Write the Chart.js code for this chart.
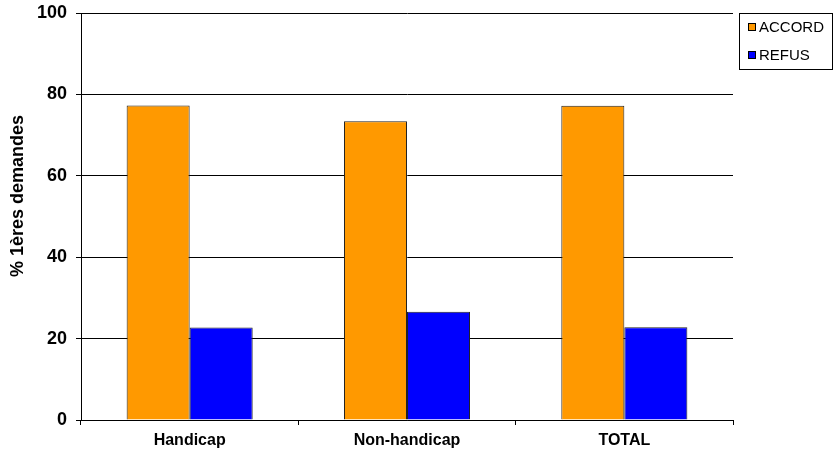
<!DOCTYPE html>
<html>
<head>
<meta charset="utf-8">
<script src="https://cdn.jsdelivr.net/npm/chart.js@4/dist/chart.umd.min.js"></script>
<style>
  html, body { margin: 0; padding: 0; background: #fff; }
  canvas { display: block; }
</style>
</head>
<body>
<canvas id="c" width="833" height="456"></canvas>
<script>
// Share of first requests by outcome, per group
const categories = ['Handicap', 'Non-handicap', 'TOTAL'];
const accord = [77.3, 73.4, 77.2];
const refus = [22.7, 26.6, 22.8];
const yTicks = [0, 20, 40, 60, 80, 100];
const yTitle = '% 1ères demandes';
const seriesNames = ['ACCORD', 'REFUS'];
const seriesColors = ['#FF9900', '#0000FF'];

const FONT = '"Liberation Sans", Arial, sans-serif';

// Boxed legend at top right plus the rotated axis title
const decorations = {
  id: 'decorations',
  afterDraw(chart) {
    const ctx = chart.ctx;
    ctx.save();
    // axis title
    ctx.translate(18.5, 196);
    ctx.rotate(-Math.PI / 2);
    ctx.font = 'bold 18px ' + FONT;
    ctx.fillStyle = '#000';
    ctx.textAlign = 'center';
    ctx.textBaseline = 'middle';
    ctx.fillText(yTitle, 0, 0);
    ctx.restore();

    ctx.save();
    ctx.strokeStyle = '#000';
    ctx.lineWidth = 1;
    ctx.strokeRect(739.5, 13.5, 93, 56);
    const rows = [27, 55];
    chart.data.datasets.forEach((ds, i) => {
      const y = rows[i];
      ctx.fillStyle = ds.backgroundColor;
      ctx.fillRect(748, y - 4, 8, 8);
      ctx.strokeStyle = '#000';
      ctx.strokeRect(748.5, y - 3.5, 7, 7);
      ctx.fillStyle = '#000';
      ctx.font = '15px ' + FONT;
      ctx.textAlign = 'left';
      ctx.textBaseline = 'middle';
      ctx.fillText(ds.label, 759, y + 1);
    });
    ctx.restore();
  }
};

new Chart(document.getElementById('c'), {
  type: 'bar',
  data: {
    labels: categories,
    datasets: [
      { label: seriesNames[0], data: accord, backgroundColor: seriesColors[0], borderColor: '#222', borderWidth: 1 },
      { label: seriesNames[1], data: refus, backgroundColor: seriesColors[1], borderColor: '#222', borderWidth: 1 }
    ]
  },
  options: {
    responsive: false,
    animation: false,
    devicePixelRatio: 1,
    layout: { padding: { top: 13, right: 100, bottom: 0, left: 0 } },
    datasets: { bar: { categoryPercentage: 0.58, barPercentage: 1.0 } },
    plugins: { legend: { display: false }, tooltip: { enabled: false } },
    scales: {
      x: {
        offset: true,
        grid: { display: true, drawOnChartArea: false, tickLength: 5, color: '#000', tickColor: '#000' },
        border: { display: true, color: '#000' },
        ticks: { color: '#000', font: { family: FONT, size: 16, weight: 'bold' }, padding: 6, maxRotation: 0 },
        afterFit(scale) { scale.height = 36; scale.paddingLeft = 0; scale.paddingRight = 0; }
      },
      y: {
        min: 0,
        max: 100,
        afterBuildTicks(scale) { scale.ticks = yTicks.map(v => ({ value: v })); },
        grid: { color: '#000', tickColor: '#000', tickLength: 5 },
        border: { display: true, color: '#000' },
        ticks: { color: '#000', font: { family: FONT, size: 18, weight: 'bold' }, padding: 9 },
        afterFit(scale) { scale.width = 81; scale.paddingTop = 0; scale.paddingBottom = 0; }
      }
    }
  },
  plugins: [decorations]
});
</script>
</body>
</html>
